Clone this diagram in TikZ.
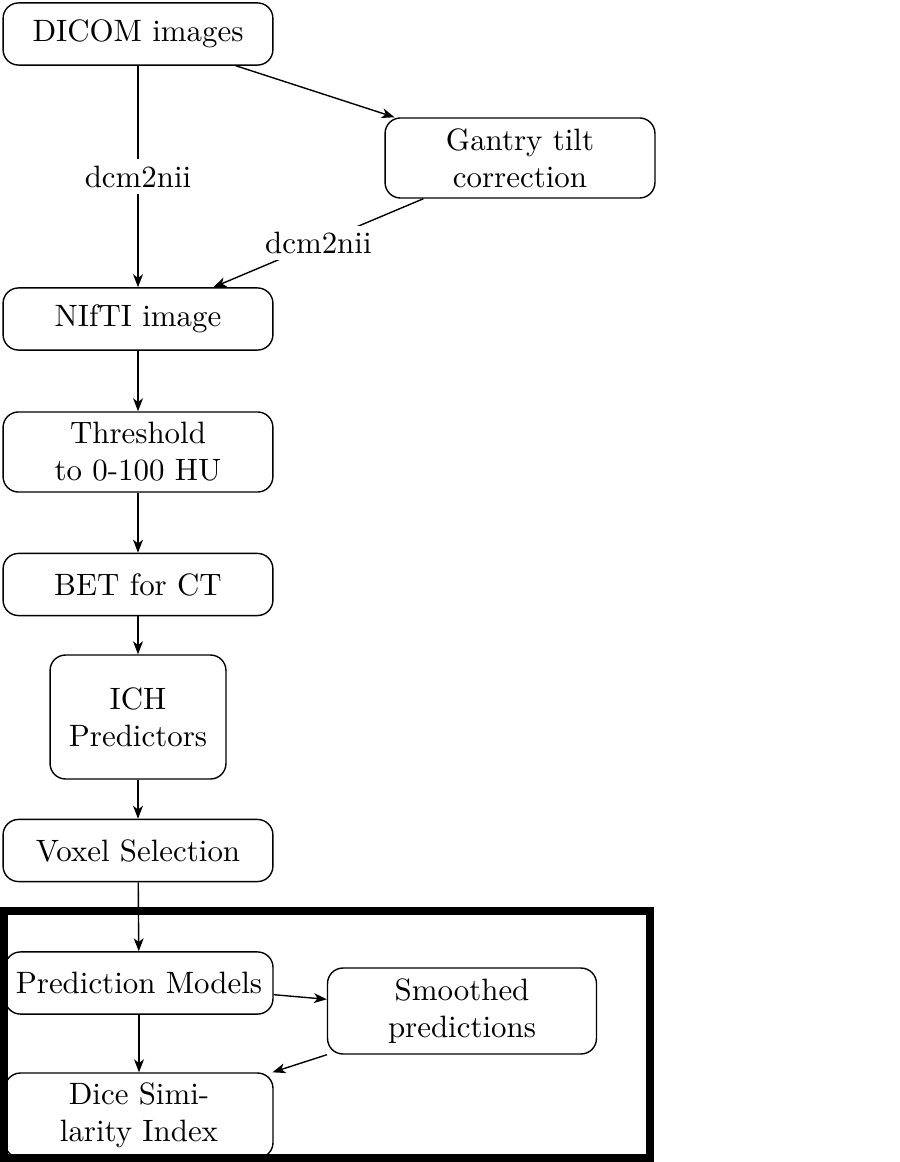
\documentclass[tikz,border=0pt]{standalone}
\usetikzlibrary{arrows.meta}
\begin{document}
\begin{tikzpicture}[x=0.3235pt,y=-0.3235pt,
  box/.style={draw,rounded corners=5pt,align=center,inner sep=0pt,line width=0.45pt},
  arr/.style={-{Stealth[length=4.2pt,width=3.2pt,inset=1.2pt]},line width=0.45pt},
  lbl/.style={fill=white,inner sep=2pt}]
\useasboundingbox (0,0) rectangle (900,1162);
\draw[line width=2.6pt] (4,911) rectangle (650,1158);
\node[box,minimum width=87.3pt,minimum height=20.1pt] (dicom) at (138,34) {DICOM images};
\node[box,minimum width=87.3pt,minimum height=25.9pt] (gantry) at (520,158) {Gantry tilt\\correction};
\node[box,minimum width=87.3pt,minimum height=20.1pt] (nifti) at (138,319) {NIfTI image};
\node[box,minimum width=87.3pt,minimum height=25.9pt] (thresh) at (138,452) {Threshold\\to 0-100 HU};
\node[box,minimum width=87.3pt,minimum height=20.1pt] (bet) at (138,584.5) {BET for CT};
\node[box,minimum width=56.9pt,minimum height=40.1pt] (ich) at (138,717) {ICH\\Predictors};
\node[box,minimum width=87.3pt,minimum height=20.1pt] (voxel) at (138,850.5) {Voxel Selection};
\node[box,minimum width=86.7pt,minimum height=20.1pt] (pred) at (139,983) {Prediction Models};
\node[box,minimum width=87pt,minimum height=27.8pt] (smooth) at (462,1011) {Smoothed\\predictions};
\node[box,minimum width=86.7pt,minimum height=27.5pt] (dice) at (139,1115.5) {Dice Simi-\\larity Index};
\draw[arr] (dicom) -- node[lbl] {dcm2nii} (nifti);
\draw[arr] (dicom) -- (gantry);
\draw[arr] (gantry) -- node[lbl] {dcm2nii} (nifti);
\draw[arr] (nifti) -- (thresh);
\draw[arr] (thresh) -- (bet);
\draw[arr] (bet) -- (ich);
\draw[arr] (ich) -- (voxel);
\draw[arr] (voxel) -- (pred);
\draw[arr] (pred) -- (smooth);
\draw[arr] (pred) -- (dice);
\draw[arr] (smooth) -- (dice);
\end{tikzpicture}
\end{document}
